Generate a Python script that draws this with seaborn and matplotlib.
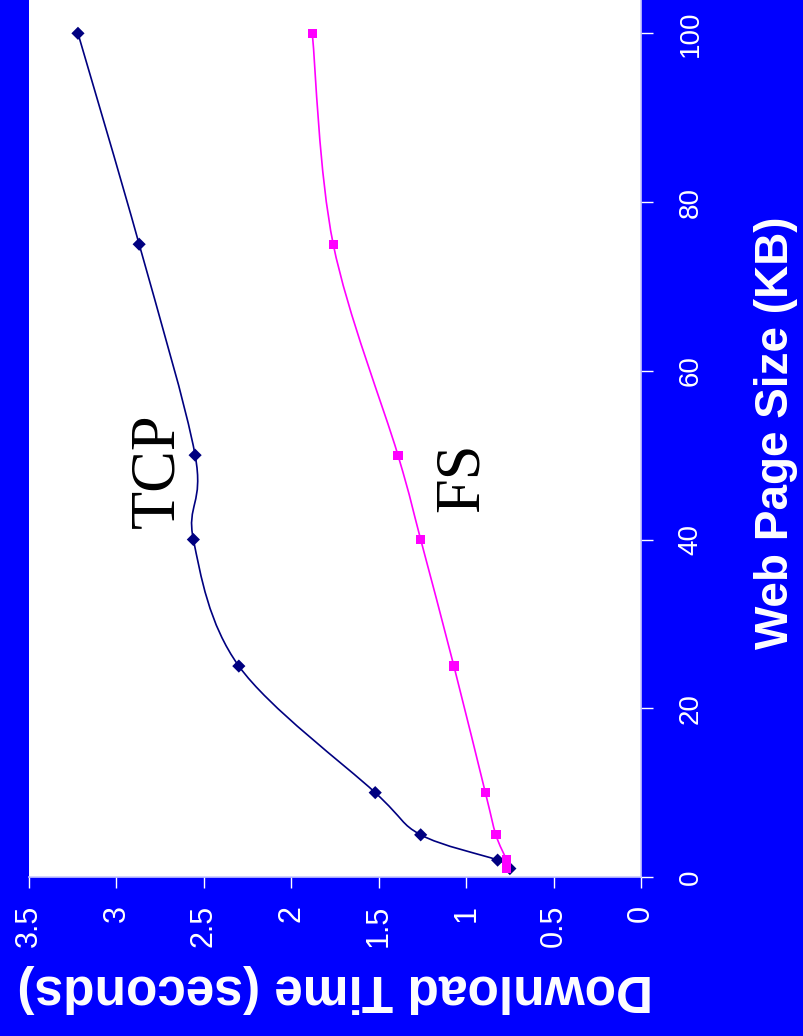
import matplotlib
matplotlib.use("Agg")
import matplotlib.pyplot as plt
from matplotlib.path import Path
from matplotlib.patches import PathPatch
import numpy as np
import pandas as pd
import seaborn as sns

# Web page sizes (KB) and measured download times (seconds)
page_kb = [1, 2, 5, 10, 25, 40, 50, 75, 100]
tcp_time = [0.75, 0.82, 1.26, 1.52, 2.30, 2.56, 2.55, 2.87, 3.22]
fs_time = [0.77, 0.77, 0.83, 0.89, 1.07, 1.26, 1.39, 1.76, 1.88]

x_ticks = [0, 0.5, 1, 1.5, 2, 2.5, 3, 3.5]
y_ticks = [0, 20, 40, 60, 80, 100]

BG = "#0000FF"
TCP_COLOR = "#000080"
FS_COLOR = "#FF00FF"

sns.set_theme(style="white")
plt.rcParams["font.family"] = ["Liberation Sans", "DejaVu Sans"]

fig = plt.figure(figsize=(8.04, 10.36), dpi=100, facecolor=BG)
ax = fig.add_axes([29 / 804, 159 / 1036, 612 / 804, 877 / 1036])
ax.set_facecolor("white")

df = pd.DataFrame({
    "kb": page_kb * 2,
    "time": tcp_time + fs_time,
    "proto": ["TCP"] * len(page_kb) + ["FS"] * len(page_kb),
})


def smooth_path(xs, ys):
    """Cubic Bezier path through the points (Catmull-Rom style smoothing)."""
    pts = np.column_stack([xs, ys]).astype(float)
    n = len(pts)
    verts = [pts[0]]
    codes = [Path.MOVETO]
    for i in range(n - 1):
        p0 = pts[i - 1] if i > 0 else pts[i]
        p1 = pts[i]
        p2 = pts[i + 1]
        p3 = pts[i + 2] if i + 2 < n else pts[i + 1]
        c1 = p1 + (p2 - p0) / 6.0
        c2 = p2 - (p3 - p1) / 6.0
        verts += [c1, c2, p2]
        codes += [Path.CURVE4] * 3
    return Path(verts, codes)


for name, times, color in [("TCP", tcp_time, TCP_COLOR), ("FS", fs_time, FS_COLOR)]:
    ax.add_patch(PathPatch(smooth_path(times, page_kb), facecolor="none",
                           edgecolor=color, lw=1.2, zorder=2))

sns.scatterplot(data=df, x="time", y="kb", hue="proto", style="proto",
                markers={"TCP": "D", "FS": "s"},
                palette={"TCP": TCP_COLOR, "FS": FS_COLOR},
                s=45, linewidth=0, legend=False, ax=ax, zorder=3)

ax.set_xlim(3.5, 0)
ax.set_ylim(0, 103.95)
ax.set_xticks(x_ticks)
ax.set_xticklabels([f"{t:g}" for t in x_ticks], rotation=90, fontsize=22,
                   color="white", va="top", ha="center")
ax.yaxis.tick_right()
ax.set_yticks(y_ticks)
ax.set_yticklabels([str(t) for t in y_ticks], rotation=90, fontsize=20,
                   color="white", va="center", ha="left")
ax.tick_params(axis="x", direction="out", length=8, width=1, color="white",
               pad=12, bottom=True)
ax.tick_params(axis="y", direction="out", length=8.5, width=1, color="white",
               pad=18, right=True, left=False)

for side in ["top", "left"]:
    ax.spines[side].set_visible(False)
for side in ["bottom", "right"]:
    ax.spines[side].set_color("#C8C8FF")
    ax.spines[side].set_linewidth(1.2)

ax.set_xlabel("Download Time (seconds)", fontsize=37, fontweight="bold",
              color="white", rotation=180, ha="center", va="center")
ax.xaxis.set_label_coords(0.5, -0.127)
ax.yaxis.set_label_position("right")
ax.set_ylabel("Web Page Size (KB)", fontsize=33, fontweight="bold",
              color="white", rotation=90, ha="center", va="center",
              rotation_mode="default")
ax.yaxis.set_label_coords((776 - 29) / 612, 0.506)

ax.text(2.758, 48.2, "TCP", rotation=90, fontsize=45, color="black",
        family=["Liberation Serif", "DejaVu Serif"], ha="center", va="center")
ax.text(1.022, 47.4, "FS", rotation=90, fontsize=45, color="black",
        family=["Liberation Serif", "DejaVu Serif"], ha="center", va="center")

fig.savefig("out.png", dpi=100, facecolor=BG)
